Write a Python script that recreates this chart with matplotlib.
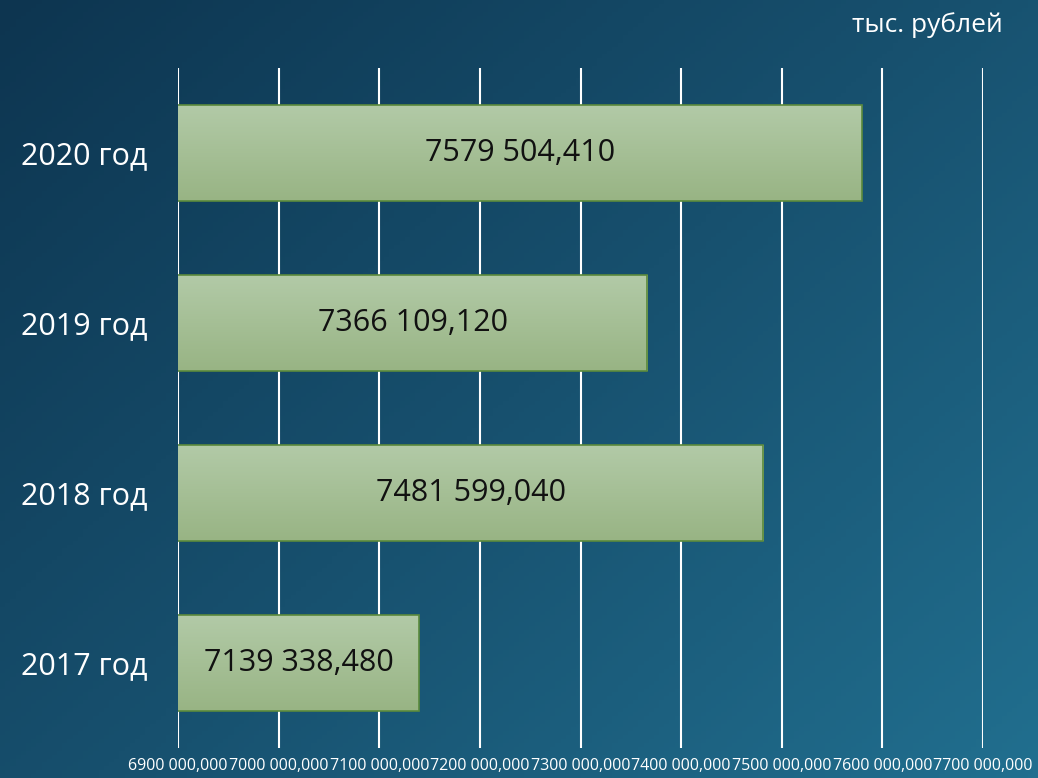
import numpy as np
import matplotlib
matplotlib.use("Agg")
import matplotlib.pyplot as plt
from matplotlib.colors import LinearSegmentedColormap

plt.rcParams["font.family"] = ["Open Sans", "DejaVu Sans"]

years = ["2017 год", "2018 год", "2019 год", "2020 год"]
values = [7139338.480, 7481599.040, 7366109.120, 7579504.410]
x_ticks = [6900000, 7000000, 7100000, 7200000, 7300000,
           7400000, 7500000, 7600000, 7700000]
unit_label = "тыс. рублей"


def fmt(v):
    s = f"{v:.3f}"
    whole, frac = s.split(".")
    return f"{whole[:-3]} {whole[-3:]},{frac}"


fig = plt.figure(figsize=(10.38, 7.78), dpi=100)

# background gradient (dark navy top-left to lighter teal bottom-right)
bg = fig.add_axes([0, 0, 1, 1], zorder=-10)
yy, xx = np.mgrid[0:1:200j, 0:1:200j]
grad = 0.55 * xx + 0.45 * yy
bg_cmap = LinearSegmentedColormap.from_list("bg", ["#0d3550", "#17506e", "#216f8f"])
bg.imshow(grad, cmap=bg_cmap, aspect="auto", extent=[0, 1, 1, 0])
bg.axis("off")

ax = fig.add_axes([178 / 1038, 1 - 748 / 778, 805 / 1038, 680 / 778])
ax.patch.set_alpha(0)

ypos = np.arange(len(years))
bars = ax.barh(ypos, values, left=0, height=0.56, color="none",
               edgecolor="#5b8a3c", linewidth=1.2, zorder=4)

bar_cmap = LinearSegmentedColormap.from_list("bar", ["#98b484", "#b2caa7"])
g = np.linspace(0, 1, 100).reshape(-1, 1)
for b in bars:
    x0, y0 = b.get_x(), b.get_y()
    w, h = b.get_width(), b.get_height()
    im = ax.imshow(g, cmap=bar_cmap, aspect="auto", origin="lower",
                   extent=[x_ticks[0], x0 + w, y0, y0 + h], zorder=3)
    im.set_clip_path(b)

for y, v in zip(ypos, values):
    ax.text((x_ticks[0] + v) / 2, y, fmt(v), ha="center", va="center",
            fontsize=22, color="#111111", zorder=5)

ax.set_xlim(x_ticks[0], x_ticks[-1])
ax.set_ylim(-0.5, 3.5)
ax.set_xticks(x_ticks)
ax.set_xticklabels([fmt(t) for t in x_ticks], fontsize=11.5, color="white")
ax.set_yticks(ypos)
ax.set_yticklabels(years, fontsize=22, color="white")
ax.tick_params(axis="x", length=0, pad=7)
ax.tick_params(axis="y", length=0, pad=22)
ax.grid(axis="x", color="white", linewidth=1.5, zorder=1)
ax.set_axisbelow(True)
for s in ax.spines.values():
    s.set_visible(False)

fig.text(1003 / 1038, 1 - 25 / 778, unit_label, ha="right", va="center",
         fontsize=19, color="white")

fig.savefig("out.png", dpi=100)
